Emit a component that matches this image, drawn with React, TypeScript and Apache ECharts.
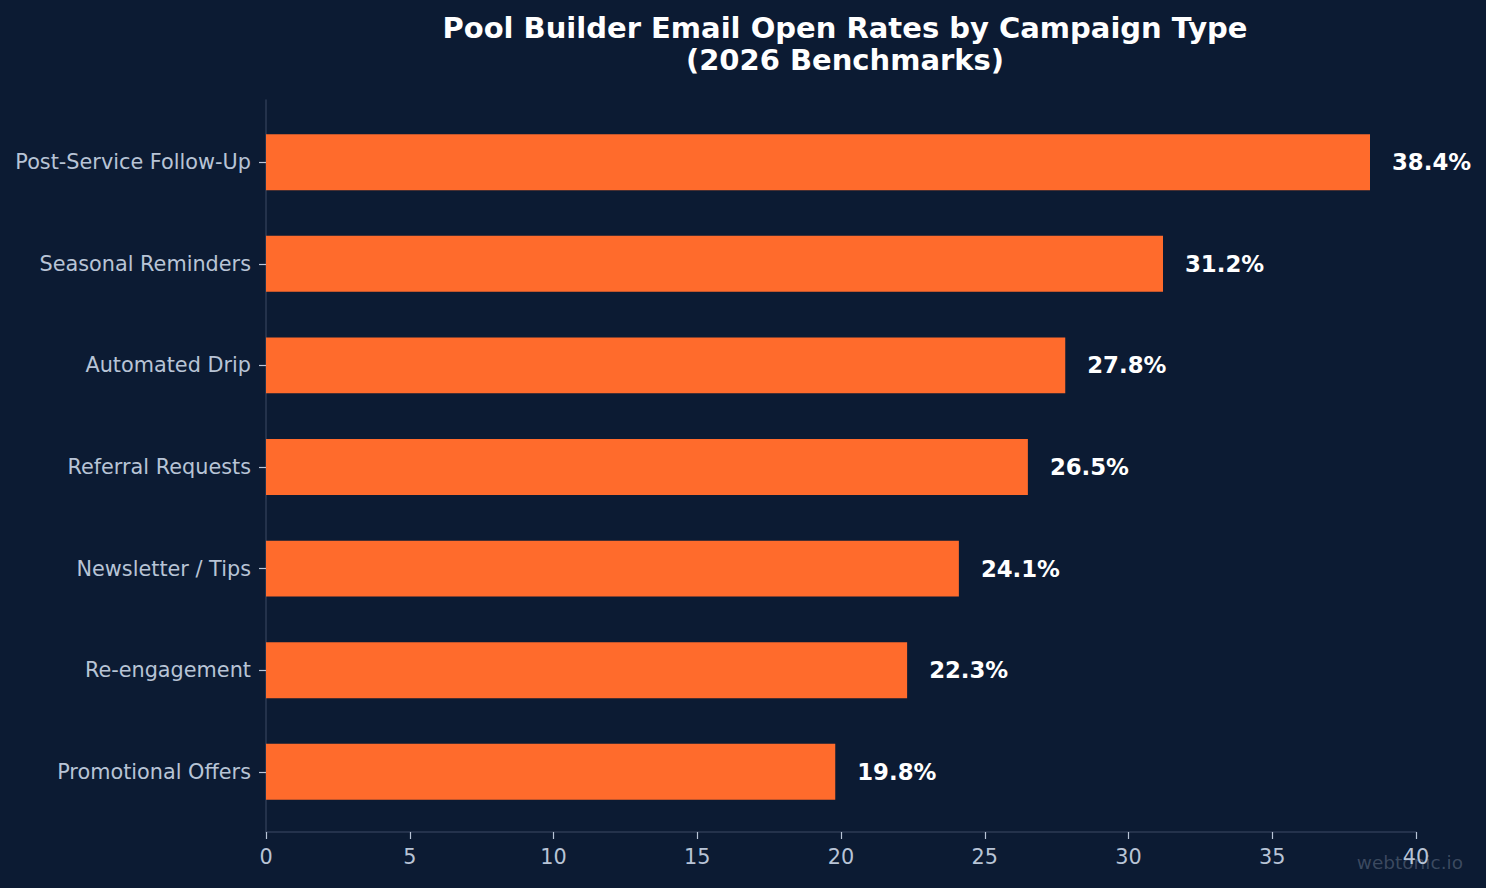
import React, { useEffect, useRef } from "react";
import * as echarts from "echarts";

// Campaign types, top to bottom
const campaigns = [
  "Post-Service Follow-Up",
  "Seasonal Reminders",
  "Automated Drip",
  "Referral Requests",
  "Newsletter / Tips",
  "Re-engagement",
  "Promotional Offers",
];

// Open rate (%) for each campaign type
const openRates = [38.4, 31.2, 27.8, 26.5, 24.1, 22.3, 19.8];

// X axis ticks
const xMin = 0;
const xMax = 40;
const xStep = 5;

const BG = "#0c1b33";
const BAR = "#ff6b2c";
const MUTED = "#b8c4d6";
const SPINE = "#2c3b55";
const FONT = "DejaVu Sans";

// Axes frame (pixels) and category band layout inside it
const LEFT = 266;
const RIGHT = 70;
const TOP = 100;
const FRAME_H = 732;
// the category range spans n + 2*0.1025 bands (matplotlib-style margins)
const pad = 0.1025;
const band = FRAME_H / (campaigns.length + 2 * pad);

export default function App() {
  const ref = useRef<HTMLDivElement>(null);

  useEffect(() => {
    if (!ref.current) return;
    const chart = echarts.init(ref.current, null, { renderer: "svg" });

    const option: echarts.EChartsOption = {
      animation: false,
      backgroundColor: BG,
      textStyle: { fontFamily: FONT },
      grid: [
        // frame grid: spines, x ticks and labels
        { left: LEFT, right: RIGHT, top: TOP, height: FRAME_H, containLabel: false },
        // bar grid: categories inset by the margins
        {
          left: LEFT,
          right: RIGHT,
          top: TOP + pad * band + 1,
          height: band * campaigns.length,
          containLabel: false,
        },
      ],
      xAxis: [
        {
          gridIndex: 0,
          type: "value",
          min: xMin,
          max: xMax,
          interval: xStep,
          axisLine: { show: true, lineStyle: { color: SPINE, width: 1.5 } },
          axisTick: { show: true, length: 7, lineStyle: { color: MUTED, width: 1.2 } },
          axisLabel: { color: MUTED, fontSize: 20.8, margin: 14, fontFamily: FONT },
          splitLine: { show: false },
        },
        {
          gridIndex: 1,
          type: "value",
          min: xMin,
          max: xMax,
          show: false,
        },
      ],
      yAxis: [
        {
          gridIndex: 0,
          type: "value",
          min: 0,
          max: 1,
          axisLine: { show: true, lineStyle: { color: SPINE, width: 1.5 } },
          axisTick: { show: false },
          axisLabel: { show: false },
          splitLine: { show: false },
        },
        {
          gridIndex: 1,
          type: "category",
          data: campaigns,
          inverse: true,
          axisLine: { show: false },
          axisTick: {
            show: true,
            alignWithLabel: true,
            length: 7,
            lineStyle: { color: MUTED, width: 1.2 },
          },
          axisLabel: {
            color: MUTED,
            fontSize: 20.8,
            margin: 15,
            fontFamily: FONT,
            padding: [3, 0, 0, 0],
          },
          splitLine: { show: false },
        },
      ],
      series: [
        {
          type: "bar",
          xAxisIndex: 1,
          yAxisIndex: 1,
          data: openRates,
          barWidth: "55%",
          itemStyle: { color: BAR },
          label: {
            show: true,
            position: "right",
            distance: 22,
            color: "#ffffff",
            fontWeight: "bold",
            fontSize: 22.8,
            fontFamily: FONT,
            formatter: (p: any) => `${Number(p.value).toFixed(1)}%`,
          },
        },
      ],
      graphic: [
        {
          type: "text",
          x: 845,
          y: 12,
          style: {
            text: "Pool Builder Email Open Rates by Campaign Type\n(2026 Benchmarks)",
            fill: "#ffffff",
            font: `bold 29px '${FONT}'`,
            textAlign: "center",
            textVerticalAlign: "top",
            lineHeight: 32,
          },
        },
        {
          type: "text",
          x: 1463,
          y: 862,
          z: 100,
          style: {
            text: "webtonic.io",
            fill: "rgba(184,196,214,0.28)",
            font: `18.5px '${FONT}'`,
            textAlign: "right",
            textVerticalAlign: "middle",
          },
        },
      ],
    };

    chart.setOption(option);
    return () => chart.dispose();
  }, []);

  return (
    <div
      ref={ref}
      style={{ position: "fixed", left: 0, top: 0, width: 1486, height: 888, background: BG }}
    />
  );
}
